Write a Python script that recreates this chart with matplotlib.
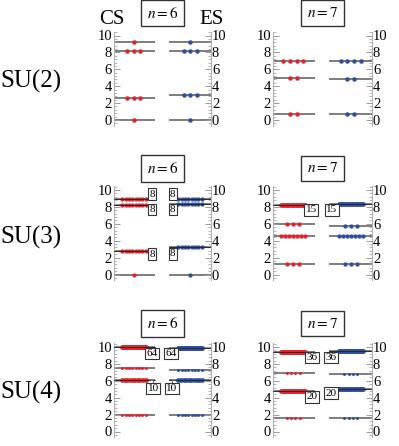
import numpy as np
import matplotlib
matplotlib.use('Agg')
import matplotlib.pyplot as plt
from matplotlib.ticker import MultipleLocator

plt.rcParams['font.family'] = ['Liberation Serif', 'DejaVu Serif']
plt.rcParams['mathtext.fontset'] = 'stix'

W, H = 399, 446

groups = ['SU(2)', 'SU(3)', 'SU(4)']
sizes = [6, 7]

# levels as (energy, degeneracy)
su2_n6_cs = [(0.0, 1), (2.6, 3), (8.2, 3), (9.25, 1)]
su2_n6_es = [(0.0, 1), (2.9, 3), (8.2, 3), (9.25, 1)]
su2_n7_cs = [(0.7, 2), (4.95, 2), (6.95, 4)]
su2_n7_es = [(0.7, 2), (4.8, 2), (6.95, 4)]

su3_n6_cs = [(0.0, 1), (2.75, 8), (8.2, 8), (8.95, 8)]
su3_n6_es = [(0.0, 1), (3.25, 8), (8.4, 8), (8.9, 8)]
su3_n7_cs = [(1.2, 3), (4.55, 7), (5.95, 3), (8.2, 15)]
su3_n7_es = [(1.2, 3), (4.55, 7), (5.75, 3), (8.3, 15)]

su4_n6_cs = [(1.95, 8), (6.1, 10), (7.5, 8), (9.95, 64)]
su4_n6_es = [(1.95, 8), (6.1, 10), (7.25, 8), (9.9, 64)]
su4_n7_cs = [(1.6, 4), (4.85, 20), (6.95, 4), (9.4, 36)]
su4_n7_es = [(1.6, 4), (5.0, 20), (6.75, 4), (9.5, 36)]

levels = [[(su2_n6_cs, su2_n6_es), (su2_n7_cs, su2_n7_es)],
          [(su3_n6_cs, su3_n6_es), (su3_n7_cs, su3_n7_es)],
          [(su4_n6_cs, su4_n6_es), (su4_n7_cs, su4_n7_es)]]

# degeneracy tags: (row, col, text, x, y, leader_y)
tags = [(1, 0, '8', 0.40, 9.5, None), (1, 0, '8', 0.40, 7.7, None),
        (1, 0, '8', 0.40, 2.4, None), (1, 0, '8', 0.61, 9.5, None),
        (1, 0, '8', 0.61, 7.7, None), (1, 0, '8', 0.61, 2.45, None),
        (1, 1, '15', 0.39, 7.65, None), (1, 1, '15', 0.60, 7.65, None),
        (2, 0, '64', 0.40, 9.25, None), (2, 0, '64', 0.59, 9.25, None),
        (2, 0, '10', 0.41, 5.1, 6.1), (2, 0, '10', 0.60, 5.1, 6.1),
        (2, 1, '36', 0.40, 8.75, None), (2, 1, '36', 0.59, 8.75, None),
        (2, 1, '20', 0.40, 4.1, None), (2, 1, '20', 0.59, 4.55, None)]

red = '#e3232b'
blue = '#2f4f9e'

col_x = [(113.5, 210.5), (272.5, 371.5)]
row_y0 = [120, 274.5, 431.5]
scale = 8.45
ylo, yhi = -0.7, 10.45

dot_px = [4.5, 4.3, 3.0]
spacing = [0.066, 0.062, 0.042]

fig = plt.figure(figsize=(W / 100, H / 100), dpi=100)

def panel_axes(r, c):
  xl, xr = col_x[c]
  y0 = row_y0[r]
  top = y0 - yhi * scale
  bot = y0 - ylo * scale
  return fig.add_axes([xl / W, 1 - bot / H, (xr - xl) / W, (bot - top) / H])

def draw_side(ax, lev, x0, xa, xb, color, r, width_px):
  for e, d in lev:
    ax.plot([xa, xb], [e, e], color='#5a5a5a', lw=1.1, zorder=1,
            solid_capstyle='butt')
    w = min((d - 1) * spacing[r], 0.24)
    xs = x0 + np.linspace(-w / 2, w / 2, d)
    size = dot_px[r] if d <= 8 else 4.8
    ax.plot(xs, [e] * d, 'o', ms=size * 0.72, color=color, mec='none',
            zorder=2, clip_on=False)
    if d > 1 and w / (d - 1) * width_px < size * 0.9:
      ax.plot([xa, xb], [e, e], color='#222222', lw=0.6, zorder=3)

axes = {}
for r in range(3):
  for c in range(2):
    ax = panel_axes(r, c)
    axes[(r, c)] = ax
    width_px = col_x[c][1] - col_x[c][0]
    cs, es = levels[r][c]
    draw_side(ax, cs, 0.21, 0.0, 0.43, red, r, width_px)
    draw_side(ax, es, 0.79, 0.57, 1.0, blue, r, width_px)
    ax.set_xlim(0, 1)
    ax.set_ylim(ylo, yhi)
    ax.set_facecolor('none')
    for s in ['top', 'bottom']:
      ax.spines[s].set_visible(False)
    for s in ['left', 'right']:
      ax.spines[s].set_color('#b0b0b0')
      ax.spines[s].set_linewidth(0.8)
    ax.set_xticks([])
    ax.set_yticks(range(0, 11, 2))
    ax.yaxis.set_minor_locator(MultipleLocator(0.4))
    ax.tick_params(axis='y', which='both', direction='in', left=True,
                   right=True, labelleft=True, labelright=True,
                   color='#999999', labelsize=10.5, pad=1)
    ax.tick_params(axis='y', which='major', length=4, width=0.7)
    ax.tick_params(axis='y', which='minor', length=2, width=0.5)

for r, c, t, x, y, ly in tags:
  ax = axes[(r, c)]
  if ly is not None:
    xe = 0.38 if x < 0.5 else 0.62
    ax.plot([xe, x, x], [ly, ly, y], color='#666666', lw=0.7, zorder=4)
  ax.text(x, y, t, fontsize=8, ha='center', va='center', zorder=5,
          bbox=dict(boxstyle='square,pad=0.12', fc='white', ec='#333333',
                    lw=0.8))

# n = 6 / n = 7 boxes
box_y = [13, 168.5, 323.5]
for r in range(3):
  for c, n in enumerate(sizes):
    xc = 162.5 if c == 0 else 322.5
    fig.text(xc / W, 1 - box_y[r] / H, '$n = %d$' % n, ha='center',
             va='center', fontsize=11,
             bbox=dict(boxstyle='square,pad=0.38', fc='white', ec='#333333',
                       lw=1.0))

# row labels
row_lab_y = [81, 237, 392]
for r, g in enumerate(groups):
  fig.text(31 / W, 1 - row_lab_y[r] / H, g, ha='center', va='center',
           fontsize=18)

fig.text(112 / W, 1 - 19 / H, 'CS', ha='center', va='center', fontsize=15)
fig.text(211 / W, 1 - 19 / H, 'ES', ha='center', va='center', fontsize=15)

fig.savefig('out.png', dpi=100)
